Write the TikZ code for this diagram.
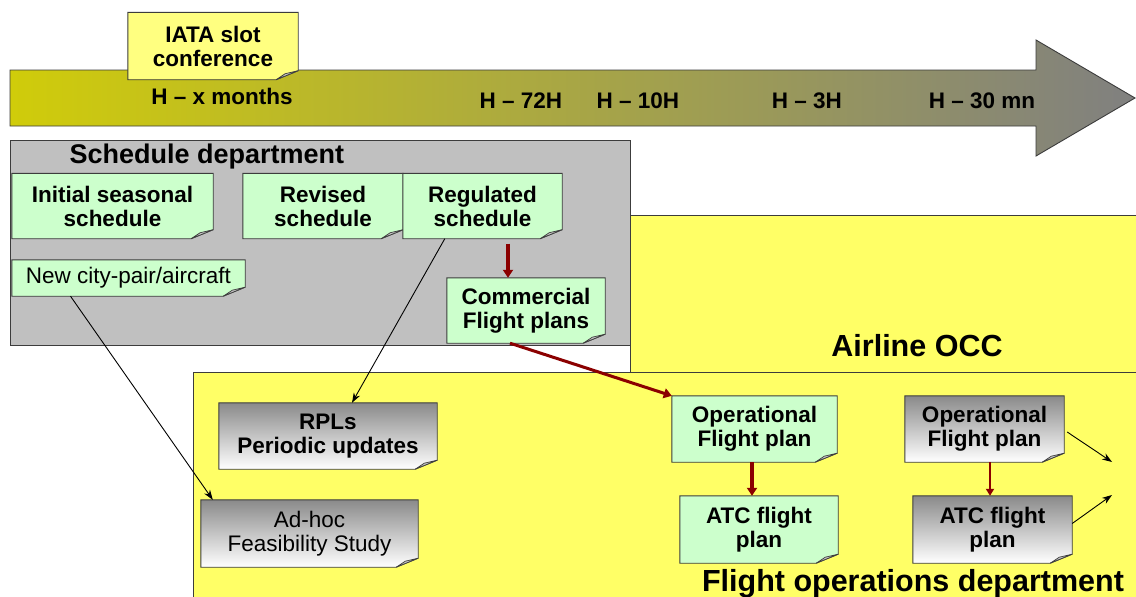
\documentclass[tikz,border=0pt]{standalone}
\usepackage{fontspec}
\setmainfont{Liberation Sans}
\usetikzlibrary{arrows.meta,calc}
\pgfdeclarelayer{back}
\pgfdeclarelayer{notes}
\pgfsetlayers{back,notes,main}
\definecolor{olive}{RGB}{208,204,10}
\definecolor{arrgray}{RGB}{128,128,128}
\definecolor{deptgray}{RGB}{192,192,192}
\definecolor{deptyellow}{RGB}{255,255,102}
\definecolor{notegreen}{RGB}{204,255,204}
\definecolor{noteyellow}{RGB}{255,255,128}
\definecolor{notegraytop}{RGB}{138,138,138}
\definecolor{darkred}{RGB}{139,0,0}
\definecolor{edge}{RGB}{60,60,60}
\newcommand\notebg[2]{%
  \begin{pgfonlayer}{notes}
    \path[draw=edge,line width=0.9pt,#2] (#1.north west) -- (#1.north east) -- ([yshift=9pt]#1.south east)
      -- ([xshift=-22pt]#1.south east) -- (#1.south west) -- cycle;
    \path[draw=edge,line width=0.7pt,fill=gray!45] ([xshift=-22pt]#1.south east) -- ([yshift=9pt]#1.south east)
      -- ([xshift=-13pt,yshift=6pt]#1.south east) -- cycle;
  \end{pgfonlayer}}
\tikzset{
  notebox/.style={inner sep=0pt,align=center,font=\fontsize{22.5}{24}\selectfont\bfseries},
  plain/.style={font=\fontsize{22.5}{24}\selectfont},
  deptbox/.style={draw=edge,line width=0.9pt},
  redarr/.style={draw=darkred,line width=3.5pt,-{Triangle[length=8pt,width=10pt]}},
  thinred/.style={draw=darkred,line width=2pt,-{Triangle[length=7pt,width=8pt]}},
  blackarr/.style={draw=black,line width=0.9pt,-{Stealth[length=10pt,width=7pt]}},
  hlabel/.style={font=\fontsize{22.5}{25}\selectfont\bfseries},
  title/.style={font=\fontsize{30.5}{33}\selectfont\bfseries},
}
\begin{document}
\begin{tikzpicture}[x=1pt,y=-1pt]
\useasboundingbox (0,0) rectangle (1136,597);
\clip (0,0) rectangle (1136,597);
\begin{pgfonlayer}{back}
  \fill[white] (0,0) rectangle (1136,597);
  % timeline arrow
  \path[deptbox,left color=olive,right color=arrgray,shading angle=90] (10,70) -- (1036,70) -- (1036,40) -- (1135,98)
    -- (1036,156) -- (1036,126) -- (10,126) -- cycle;
  % departments
  \path[deptbox,fill=deptyellow] (630,215) rectangle (1145,610);
  \path[deptbox,fill=deptgray] (10,140) rectangle (630,345);
  \path[deptbox,fill=deptyellow] (193,372) rectangle (1145,610);
\end{pgfonlayer}

% timeline labels
\node[hlabel] (hx) at (222,96) {H -- x months};
\node[hlabel] (h72) at (521,101) {H -- 72H};
\node[hlabel] (h10) at (638,101) {H -- 10H};
\node[hlabel] (h3) at (807,101) {H -- 3H};
\node[hlabel] (h30) at (982,101) {H -- 30 mn};

% department titles
\node[font=\fontsize{27}{29}\selectfont\bfseries,anchor=west] (sd) at (66,157) {Schedule department};
\node[title] (occ) at (917,346) {Airline OCC};
\node[title] (fod) at (913,584) {Flight operations department};

% notes
\node[notebox,minimum width=170pt,minimum height=67pt] (iata) at (213,46) {IATA slot\\conference};
\notebg{iata}{fill=noteyellow}
\node[notebox,minimum width=201pt,minimum height=65pt] (init) at (112.5,206) {Initial seasonal\\schedule};
\notebg{init}{fill=notegreen}
\node[notebox,minimum width=160pt,minimum height=65pt] (rev) at (323,206) {Revised\\schedule};
\notebg{rev}{fill=notegreen}
\node[notebox,minimum width=159pt,minimum height=65pt] (reg) at (482.5,206) {Regulated\\schedule};
\notebg{reg}{fill=notegreen}
\node[notebox,plain,minimum width=233pt,minimum height=36pt] (nc) at (128.5,278) {New city-pair/aircraft};
\notebg{nc}{fill=notegreen}
\node[notebox,minimum width=158pt,minimum height=65pt] (com) at (526,310.5) {Commercial\\Flight plans};
\notebg{com}{fill=notegreen}
\node[notebox,minimum width=165pt,minimum height=66pt] (op1) at (754.5,429) {Operational\\Flight plan};
\notebg{op1}{fill=notegreen}
\node[notebox,minimum width=158pt,minimum height=67pt] (atc1) at (759,529.5) {ATC flight\\plan};
\notebg{atc1}{fill=notegreen}
\node[notebox,minimum width=218pt,minimum height=66pt] (rpl) at (328,436) {RPLs\\Periodic updates};
\notebg{rpl}{top color=notegraytop,bottom color=white}
\node[notebox,plain,minimum width=217pt,minimum height=67pt] (adhoc) at (309.5,533.5) {Ad-hoc\\Feasibility Study};
\notebg{adhoc}{top color=notegraytop,bottom color=white}
\node[notebox,minimum width=159pt,minimum height=66pt] (op2) at (984.5,429) {Operational\\Flight plan};
\notebg{op2}{top color=notegraytop,bottom color=white}
\node[notebox,minimum width=159pt,minimum height=67pt] (atc2) at (992.5,529.5) {ATC flight\\plan};
\notebg{atc2}{top color=notegraytop,bottom color=white}

% connectors
\draw[redarr] ([xshift=25.5pt,yshift=-5pt]reg.south) coordinate (r1) -- (r1 |- com.north);
\draw[redarr,line width=3pt] ([xshift=-16pt]com.south) -- (op1.north west);
\draw[redarr] ([xshift=-2.5pt]op1.south) coordinate (r2) -- (r2 |- atc1.north);
\draw[thinred] ([xshift=5.5pt]op2.south) coordinate (r3) -- (r3 |- atc2.north);
\draw[blackarr] ([xshift=-58pt]nc.south) -- ([xshift=12pt]adhoc.north west);
\draw[blackarr] ([xshift=42pt]reg.south west) -- ([xshift=24pt]rpl.north);
\coordinate (out1) at (1112,462);
\coordinate (out2) at (1112,495);
\draw[blackarr] ([xshift=3pt,yshift=-3pt]op2.east) -- (out1);
\draw[blackarr] ([xshift=0pt,yshift=6pt]atc2.east) -- (out2);
\end{tikzpicture}
\end{document}
